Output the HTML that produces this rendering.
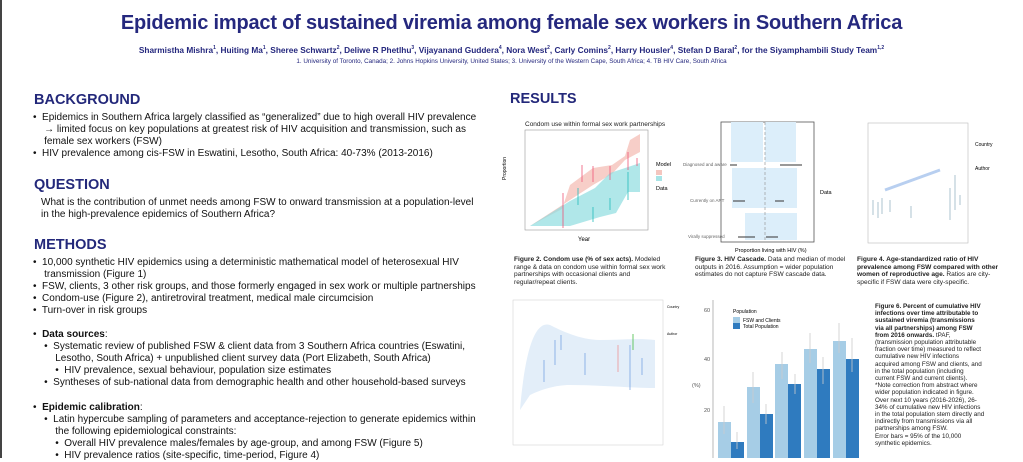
<!DOCTYPE html>
<html><head><meta charset="utf-8"><style>
*{margin:0;padding:0;box-sizing:border-box}
body{width:1023px;height:458px;background:#fff;position:relative;overflow:hidden;font-family:"Liberation Sans",Arial,sans-serif;color:#111}
.a{position:absolute;white-space:nowrap}
.h{color:#23287a;font-weight:bold;font-size:14.5px}
.t{font-size:10px;line-height:12px}
.c{font-size:6.6px;line-height:7.6px;color:#222}
</style></head><body>
<div class="a" style="left:0;top:0;width:2px;height:458px;background:#444"></div>
<div class="a" style="left:0;top:12px;width:1023px;text-align:center;font-size:20px;font-weight:bold;color:#25287e;letter-spacing:-0.2px">Epidemic impact of sustained viremia among female sex workers in Southern Africa</div>
<div class="a" style="left:0;top:45px;width:1023px;text-align:center;font-size:8.3px;font-weight:bold;color:#25287e">Sharmistha Mishra<sup style="font-size:5px">1</sup>, Huiting Ma<sup style="font-size:5px">1</sup>, Sheree Schwartz<sup style="font-size:5px">2</sup>, Deliwe R Phetlhu<sup style="font-size:5px">3</sup>, Vijayanand Guddera<sup style="font-size:5px">4</sup>, Nora West<sup style="font-size:5px">2</sup>, Carly Comins<sup style="font-size:5px">2</sup>, Harry Housler<sup style="font-size:5px">4</sup>, Stefan D Baral<sup style="font-size:5px">2</sup>, for the Siyamphambili Study Team<sup style="font-size:5px">1,2</sup></div>
<div class="a" style="left:0;top:58px;width:1023px;text-align:center;font-size:6.3px;color:#25287e">1. University of Toronto, Canada; 2. Johns Hopkins University, United States; 3. University of the Western Cape, South Africa; 4. TB HIV Care, South Africa</div>

<div class="a h" style="left:34px;top:92px">BACKGROUND</div>
<div class="a t" style="left:33px;top:112px">•&nbsp; Epidemics in Southern Africa largely classified as “generalized” due to high overall HIV prevalence<br>&nbsp;&nbsp;&nbsp;&nbsp;→ limited focus on key populations at greatest risk of HIV acquisition and transmission, such as<br>&nbsp;&nbsp;&nbsp;&nbsp;female sex workers (FSW)<br>•&nbsp; HIV prevalence among cis-FSW in Eswatini, Lesotho, South Africa: 40-73% (2013-2016)</div>
<div class="a h" style="left:34px;top:177px">QUESTION</div>
<div class="a t" style="left:41px;top:197px">What is the contribution of unmet needs among FSW to onward transmission at a population-level<br>in the high-prevalence epidemics of Southern Africa?</div>
<div class="a h" style="left:34px;top:237px">METHODS</div>
<div class="a t" style="left:33px;top:257px">•&nbsp; 10,000 synthetic HIV epidemics using a deterministic mathematical model of heterosexual HIV<br>&nbsp;&nbsp;&nbsp;&nbsp;transmission (Figure 1)<br>•&nbsp; FSW, clients, 3 other risk groups, and those formerly engaged in sex work or multiple partnerships<br>•&nbsp; Condom-use (Figure 2), antiretroviral treatment, medical male circumcision<br>•&nbsp; Turn-over in risk groups</div>
<div class="a t" style="left:33px;top:329px">•&nbsp; <b>Data sources</b>:<br>&nbsp;&nbsp;&nbsp;&nbsp;•&nbsp; Systematic review of published FSW &amp; client data from 3 Southern Africa countries (Eswatini,<br>&nbsp;&nbsp;&nbsp;&nbsp;&nbsp;&nbsp;&nbsp;&nbsp;Lesotho, South Africa) + unpublished client survey data (Port Elizabeth, South Africa)<br>&nbsp;&nbsp;&nbsp;&nbsp;&nbsp;&nbsp;&nbsp;&nbsp;•&nbsp; HIV prevalence, sexual behaviour, population size estimates<br>&nbsp;&nbsp;&nbsp;&nbsp;•&nbsp; Syntheses of sub-national data from demographic health and other household-based surveys</div>
<div class="a t" style="left:33px;top:402px">•&nbsp; <b>Epidemic calibration</b>:<br>&nbsp;&nbsp;&nbsp;&nbsp;•&nbsp; Latin hypercube sampling of parameters and acceptance-rejection to generate epidemics within<br>&nbsp;&nbsp;&nbsp;&nbsp;&nbsp;&nbsp;&nbsp;&nbsp;the following epidemiological constraints:<br>&nbsp;&nbsp;&nbsp;&nbsp;&nbsp;&nbsp;&nbsp;&nbsp;•&nbsp; Overall HIV prevalence males/females by age-group, and among FSW (Figure 5)<br>&nbsp;&nbsp;&nbsp;&nbsp;&nbsp;&nbsp;&nbsp;&nbsp;•&nbsp; HIV prevalence ratios (site-specific, time-period, Figure 4)</div>

<div class="a h" style="left:510px;top:91px">RESULTS</div>

<svg class="a" style="left:500px;top:110px" width="523" height="145" font-family="Liberation Sans,sans-serif">
<text x="25" y="16" font-size="6.5" fill="#222">Condom use within formal sex work partnerships</text>
<rect x="25" y="20" width="123" height="100" fill="#fff" stroke="#999" stroke-width="0.6"/>
<polygon points="30,116 62,99 70,75 93,58 112,55 125,46 130,30 140,24 140,42 125,50 112,64 93,75 70,90 30,116" fill="#f4b9b0" opacity="0.7"/>
<polygon points="30,116 70,91 95,78 110,63 140,53 140,82 128,82 116,103 100,107 70,116" fill="#8fdde0" opacity="0.7"/>
<g stroke="#e57" stroke-width="0.8"><line x1="63" y1="83" x2="63" y2="118"/><line x1="82" y1="55" x2="82" y2="72"/><line x1="93" y1="56" x2="93" y2="72"/><line x1="110" y1="56" x2="110" y2="70"/><line x1="128" y1="42" x2="128" y2="60"/><line x1="137" y1="48" x2="137" y2="56"/></g>
<g stroke="#2bb" stroke-width="0.8"><line x1="78" y1="78" x2="78" y2="95"/><line x1="93" y1="97" x2="93" y2="112"/><line x1="110" y1="88" x2="110" y2="100"/><line x1="128" y1="62" x2="128" y2="90"/></g>
<text x="6" y="70" font-size="5" transform="rotate(-90 6 70)">Proportion</text>
<text x="78" y="131" font-size="6">Year</text>
<text x="156" y="56" font-size="5.5">Model</text>
<rect x="156" y="60" width="6" height="5" fill="#f4c6bf"/><rect x="156" y="66" width="6" height="5" fill="#a8e4e6"/>
<text x="156" y="80" font-size="5.5">Data</text>
<rect x="221" y="12" width="93" height="120" fill="#fff" stroke="#555" stroke-width="0.8"/>
<rect x="231" y="12" width="32" height="40" fill="#dceefa"/>
<rect x="265" y="12" width="31" height="40" fill="#dceefa"/>
<rect x="232" y="58" width="65" height="40" fill="#dceefa"/>
<rect x="245" y="103" width="52" height="27" fill="#dceefa"/>
<line x1="265" y1="12" x2="265" y2="132" stroke="#999" stroke-dasharray="3,2" stroke-width="0.7"/>
<g stroke="#333" stroke-width="1"><line x1="230" y1="55" x2="237" y2="55"/><line x1="280" y1="55" x2="302" y2="55"/><line x1="233" y1="91" x2="245" y2="91"/><line x1="275" y1="91" x2="284" y2="91"/><line x1="238" y1="127" x2="255" y2="127"/><line x1="266" y1="127" x2="278" y2="127"/></g>
<g font-size="4.5" fill="#666"><text x="183" y="56">Diagnosed and aware</text><text x="190" y="92">Currently on ART</text><text x="188" y="128">Virally suppressed</text></g>
<text x="235" y="142" font-size="5.5">Proportion living with HIV (%)</text>
<text x="320" y="84" font-size="5.5">Data</text>
<rect x="368" y="13" width="100" height="120" fill="#fff" stroke="#bbb" stroke-width="0.6"/>
<line x1="385" y1="80" x2="440" y2="60" stroke="#b8cff0" stroke-width="3"/>
<g stroke="#8ab" stroke-width="0.7"><line x1="373" y1="90" x2="373" y2="105"/><line x1="378" y1="92" x2="378" y2="108"/><line x1="382" y1="88" x2="382" y2="104"/><line x1="390" y1="90" x2="390" y2="102"/><line x1="411" y1="96" x2="411" y2="108"/><line x1="450" y1="78" x2="450" y2="110"/><line x1="455" y1="65" x2="455" y2="100"/><line x1="460" y1="85" x2="460" y2="95"/></g>
<text x="475" y="36" font-size="5">Country</text><text x="475" y="60" font-size="5">Author</text>
</svg>
<div class="a c" style="left:514px;top:256px"><b>Figure 2. Condom use (% of sex acts).</b> Modeled<br>range &amp; data on condom use within formal sex work<br>partnerships with occasional clients and<br>regular/repeat clients.</div>
<div class="a c" style="left:695px;top:256px"><b>Figure 3. HIV Cascade.</b> Data and median of model<br>outputs in 2016. Assumption = wider population<br>estimates do not capture FSW cascade data.</div>
<div class="a c" style="left:857px;top:256px"><b>Figure 4. Age-standardized ratio of HIV<br>prevalence among FSW compared with other<br>women of reproductive age.</b> Ratios are city-<br>specific if FSW data were city-specific.</div>

<svg class="a" style="left:500px;top:290px" width="380" height="168" font-family="Liberation Sans,sans-serif">
<rect x="13" y="10" width="150" height="145" fill="#fff" stroke="#ccc" stroke-width="0.5"/>
<path d="M20,120 C25,60 35,30 50,35 C60,40 80,50 100,50 C120,50 140,48 155,50 L155,98 C130,98 100,95 70,95 C55,95 40,100 30,105 Z" fill="#e3eef9"/>
<g stroke="#6a9be0" stroke-width="0.7"><line x1="44" y1="70" x2="44" y2="92"/><line x1="55" y1="50" x2="55" y2="75"/><line x1="61" y1="45" x2="61" y2="60"/><line x1="85" y1="63" x2="85" y2="85"/><line x1="130" y1="55" x2="130" y2="100"/><line x1="142" y1="68" x2="142" y2="85"/></g>
<line x1="118" y1="55" x2="118" y2="82" stroke="#e88" stroke-width="0.7"/><line x1="133" y1="44" x2="133" y2="60" stroke="#4b4" stroke-width="0.8"/>
<text x="167" y="18" font-size="3.5">Country</text><text x="167" y="45" font-size="3.5">Author</text>
<line x1="213" y1="10" x2="213" y2="168" stroke="#888" stroke-width="0.6"/>
<g font-size="5.5" fill="#555"><text x="204" y="22">60</text><text x="204" y="71">40</text><text x="204" y="122">20</text><text x="192" y="97">(%)</text></g>
<text x="233" y="23" font-size="5">Population</text>
<rect x="233" y="27" width="7" height="6" fill="#a6cde6"/><text x="243" y="32" font-size="5">FSW and Clients</text>
<rect x="233" y="33" width="7" height="6" fill="#2f7bbf"/><text x="243" y="38" font-size="5">Total Population</text>
<g fill="#a6cde6"><rect x="218" y="132" width="13" height="40"/><rect x="247" y="97" width="13" height="75"/><rect x="275" y="74" width="13" height="100"/><rect x="304" y="59" width="13" height="110"/><rect x="333" y="51" width="13" height="120"/></g>
<g fill="#2f7bbf"><rect x="231" y="152" width="13" height="20"/><rect x="260" y="124" width="13" height="50"/><rect x="288" y="94" width="13" height="80"/><rect x="317" y="79" width="13" height="90"/><rect x="346" y="69" width="13" height="100"/></g>
<g stroke="#ccc" stroke-width="0.8"><line x1="224" y1="116" x2="224" y2="144"/><line x1="253" y1="82" x2="253" y2="113"/><line x1="282" y1="62" x2="282" y2="89"/><line x1="310" y1="43" x2="310" y2="73"/><line x1="339" y1="33" x2="339" y2="63"/><line x1="237" y1="142" x2="237" y2="159"/><line x1="266" y1="114" x2="266" y2="134"/><line x1="295" y1="84" x2="295" y2="104"/><line x1="323" y1="67" x2="323" y2="94"/><line x1="352" y1="48" x2="352" y2="82"/></g>
</svg>
<div class="a c" style="left:875px;top:303px;font-size:6.3px;line-height:7.2px"><b>Figure 6. Percent of cumulative HIV<br>infections over time attributable to<br>sustained viremia (transmissions<br>via all partnerships) among FSW<br>from 2016 onwards.</b> tPAF,<br>(transmission population attributable<br>fraction over time) measured to reflect<br>cumulative new HIV infections<br>acquired among FSW and clients, and<br>in the total population (including<br>current FSW and current clients).<br>*Note correction from abstract where<br>wider population indicated in figure.<br>Over next 10 years (2016-2026), 26-<br>34% of cumulative new HIV infections<br>in the total population stem directly and<br>indirectly from transmissions via all<br>partnerships among FSW.<br>Error bars = 95% of the 10,000<br>synthetic epidemics.</div>
</body></html>
